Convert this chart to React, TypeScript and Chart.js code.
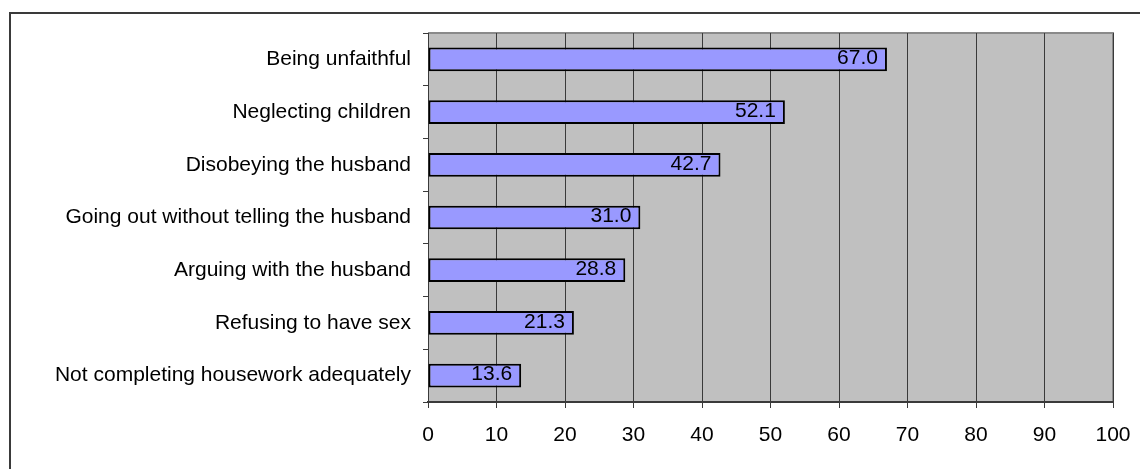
import React, { useEffect, useRef } from "react";
import { Chart, registerables } from "chart.js";

Chart.register(...registerables);

const categories = [
  "Being unfaithful",
  "Neglecting children",
  "Disobeying the husband",
  "Going out without telling the husband",
  "Arguing with the husband",
  "Refusing to have sex",
  "Not completing housework adequately",
];
const percentages = [67.0, 52.1, 42.7, 31.0, 28.8, 21.3, 13.6];
const axisMin = 0;
const axisMax = 100;
const axisStep = 10;

const FONT = "'Liberation Sans', Arial, sans-serif";
const FONT_SIZE = 21;
const W = 1140;
const H = 469;

// Outer frame, grey plot background and value labels
const decorations = {
  id: "decorations",
  beforeDraw(chart: any) {
    const { ctx, chartArea } = chart;
    ctx.save();
    ctx.fillStyle = "#ffffff";
    ctx.fillRect(0, 0, chart.width, chart.height);
    // frame (top and left edges)
    ctx.fillStyle = "#3a3a3a";
    ctx.fillRect(9, 12, chart.width - 9, 2);
    ctx.fillRect(9, 12, 2, chart.height - 12);
    // plot background
    const { left, top, right, bottom } = chartArea;
    ctx.fillStyle = "#c0c0c0";
    ctx.fillRect(left, top, right - left, bottom - top);
    ctx.strokeStyle = "#8a8a8a";
    ctx.lineWidth = 2;
    ctx.beginPath();
    ctx.moveTo(left, top);
    ctx.lineTo(right, top);
    ctx.lineTo(right, bottom);
    ctx.stroke();
    ctx.restore();
  },
  afterDatasetsDraw(chart: any) {
    const { ctx } = chart;
    const meta = chart.getDatasetMeta(0);
    const data = chart.data.datasets[0].data as number[];
    ctx.save();
    ctx.font = `${FONT_SIZE}px ${FONT}`;
    ctx.fillStyle = "#000000";
    ctx.textAlign = "right";
    ctx.textBaseline = "middle";
    meta.data.forEach((bar: any, i: number) => {
      ctx.fillText(data[i].toFixed(1), bar.x - 9, bar.y - 1);
    });
    ctx.restore();
  },
};

export default function App() {
  const canvasRef = useRef<HTMLCanvasElement | null>(null);

  useEffect(() => {
    if (!canvasRef.current) return;
    const chart = new Chart(canvasRef.current, {
      type: "bar",
      data: {
        labels: categories,
        datasets: [
          {
            data: percentages,
            backgroundColor: "#9999ff",
            borderColor: "#000000",
            borderWidth: 2,
            borderSkipped: false,
            categoryPercentage: 1,
            barPercentage: 0.45,
          },
        ],
      },
      options: {
        indexAxis: "y",
        responsive: false,
        maintainAspectRatio: false,
        animation: false,
        layout: { padding: { top: 33, right: 27, bottom: 0, left: 0 } },
        plugins: {
          legend: { display: false },
          tooltip: { enabled: false },
        },
        scales: {
          x: {
            type: "linear",
            min: axisMin,
            max: axisMax,
            ticks: {
              stepSize: axisStep,
              color: "#000000",
              font: { family: FONT, size: FONT_SIZE },
              padding: 15,
              maxRotation: 0,
            },
            grid: {
              color: "#3a3a3a",
              lineWidth: 1,
              tickLength: 6,
              drawTicks: true,
            },
            border: { display: true, color: "#3a3a3a", width: 2 },
            afterFit(scale: any) {
              scale.height = H - 402;
              scale.paddingRight = 0;
            },
          },
          y: {
            type: "category",
            offset: true,
            ticks: {
              color: "#000000",
              font: { family: FONT, size: FONT_SIZE },
              padding: 12,
              crossAlign: "near",
            },
            grid: {
              offset: true,
              drawOnChartArea: false,
              drawTicks: true,
              tickLength: 5,
              color: "#3a3a3a",
            },
            border: { display: true, color: "#3a3a3a", width: 1 },
            afterFit(scale: any) {
              scale.width = 428;
            },
          },
        },
      },
      plugins: [decorations],
    });
    return () => chart.destroy();
  }, []);

  return (
    <div style={{ position: "absolute", left: 0, top: 0, width: W, height: H }}>
      <canvas ref={canvasRef} width={W} height={H} style={{ width: W, height: H, display: "block" }} />
    </div>
  );
}
